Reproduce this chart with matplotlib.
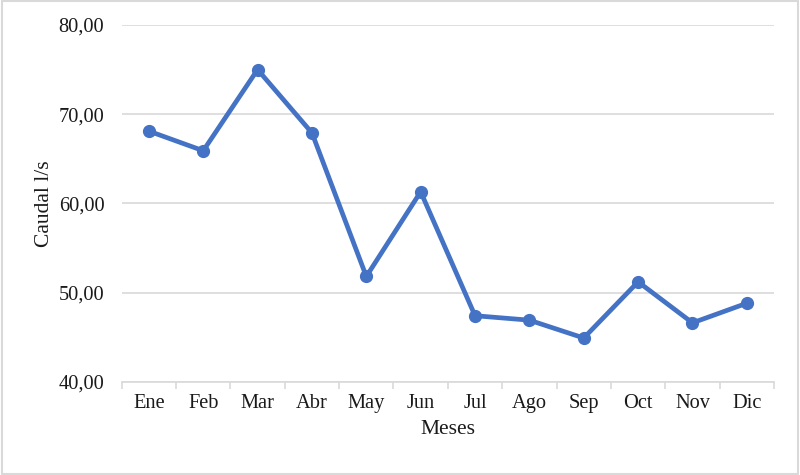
import matplotlib
matplotlib.use("Agg")
import matplotlib.pyplot as plt
from matplotlib.patches import Rectangle
from matplotlib.ticker import FuncFormatter, FixedLocator

meses = ["Ene", "Feb", "Mar", "Abr", "May", "Jun",
         "Jul", "Ago", "Sep", "Oct", "Nov", "Dic"]
caudal = [68.1, 65.9, 75.0, 67.9, 51.8, 61.3,
          47.4, 46.9, 44.9, 51.2, 46.6, 48.8]
y_ticks = [40, 50, 60, 70, 80]

plt.rcParams["font.family"] = ["Liberation Serif", "DejaVu Serif"]

fig = plt.figure(figsize=(8, 4.75), dpi=100)
ax = fig.add_axes([121.7 / 800, 1 - 381.7 / 475, (774 - 121.7) / 800, (381.7 - 25) / 475])

x = list(range(len(meses)))
ax.plot(x, caudal, color="#4472C4", linewidth=3.4, marker="o",
        markersize=8.5, solid_capstyle="round", zorder=3)

ax.set_xlim(-0.5, len(meses) - 0.5)
ax.set_ylim(y_ticks[0], y_ticks[-1])
ax.set_yticks(y_ticks)
ax.yaxis.set_major_formatter(FuncFormatter(lambda v, p: f"{v:.2f}".replace(".", ",")))
ax.set_xticks(x)
ax.set_xticklabels(meses)
ax.xaxis.set_minor_locator(FixedLocator([i - 0.5 for i in range(len(meses) + 1)]))

ax.grid(axis="y", color="#D9D9D9", linewidth=1.2)
ax.set_axisbelow(True)
for s in ["top", "right", "left"]:
    ax.spines[s].set_visible(False)
ax.spines["bottom"].set_color("#D9D9D9")
ax.spines["bottom"].set_linewidth(1.2)

ax.tick_params(axis="y", length=0, labelsize=14.7, pad=12.5, labelcolor="#1a1a1a")
ax.tick_params(axis="x", which="major", length=0, labelsize=14.7, pad=9, labelcolor="#1a1a1a")
ax.tick_params(axis="x", which="minor", length=5, width=1.2, color="#D9D9D9")

ax.set_ylabel("Caudal l/s", fontsize=15.5, labelpad=3, color="#1a1a1a")
ax.set_xlabel("Meses", fontsize=15.5, labelpad=5, color="#1a1a1a")

fig.patches.append(Rectangle((0.002, 0.003), 0.996, 0.994, transform=fig.transFigure,
                             fill=False, edgecolor="#D9D9D9", linewidth=1.5))

fig.savefig("out.png", dpi=100)
